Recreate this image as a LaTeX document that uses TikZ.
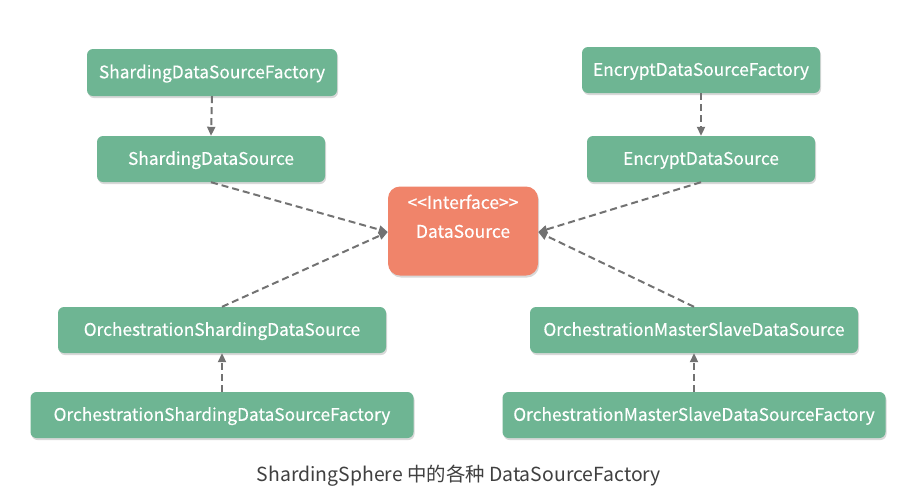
\documentclass[tikz,border=0pt]{standalone}
\usepackage{fontspec}
\setmainfont{Noto Sans CJK SC}
\newfontfamily\boxfont[FakeBold=0.4]{Noto Sans CJK SC}
\usetikzlibrary{arrows.meta,shadows,calc}
\definecolor{boxgreen}{HTML}{6EB593}
\definecolor{boxorange}{HTML}{F0846A}
\definecolor{arrowgray}{HTML}{727272}
\tikzset{
  gbox/.style={draw=none, fill=boxgreen, rounded corners=6pt, text=white,
    font=\boxfont\fontsize{17.3}{20}\selectfont, inner sep=0pt,
    text height=12.6pt, text depth=1pt,
    drop shadow={shadow xshift=1pt, shadow yshift=-2pt, opacity=0.25, fill=black!60}},
  obox/.style={draw=none, fill=boxorange, rounded corners=12pt, text=white,
    inner sep=0pt,
    drop shadow={shadow xshift=1pt, shadow yshift=-2pt, opacity=0.25, fill=black!60}},
  otext/.style={text=white, inner sep=0pt, text height=12.6pt, text depth=1pt},
  dep/.style={draw=arrowgray, line width=2pt, dash pattern=on 7pt off 4pt,
    -{Triangle[length=9pt,width=8pt]}},
}
\begin{document}
\begin{tikzpicture}[x=1pt,y=-1pt]
\useasboundingbox (0,0) rectangle (904,491);
\fill[white] (0,0) rectangle (904,491);
\node[gbox, minimum width=250pt, minimum height=47pt] (sdsf) at (212,72.5) {ShardingDataSourceFactory};
\node[gbox, minimum width=228pt, minimum height=46pt] (sds) at (211,159) {ShardingDataSource};
\node[gbox, minimum width=238pt, minimum height=46pt] (edsf) at (701,70) {EncryptDataSourceFactory};
\node[gbox, minimum width=228pt, minimum height=46pt] (eds) at (701,159) {EncryptDataSource};
\node[obox, minimum width=150pt, minimum height=89pt] (ds) at (463,231) {};
\node[otext, font=\boxfont\fontsize{17.5}{20}\selectfont] (dsi) at (463,203) {{<}{<}Interface{>}{>}};
\node[otext, font=\boxfont\fontsize{17.5}{20}\selectfont] (dsn) at (463,232) {DataSource};
\node[gbox, minimum width=328pt, minimum height=46pt] (osds) at (222,330) {OrchestrationShardingDataSource};
\node[gbox, minimum width=328pt, minimum height=46pt] (omsds) at (694,330) {OrchestrationMasterSlaveDataSource};
\node[gbox, minimum width=383pt, minimum height=46pt] (osdsf) at (222,415) {OrchestrationShardingDataSourceFactory};
\node[gbox, minimum width=383pt, minimum height=46pt] (omsdsf) at (694,415) {OrchestrationMasterSlaveDataSourceFactory};
\node[text=black!75, inner sep=0pt, text height=14pt, text depth=1pt, font=\fontsize{19.4}{23}\selectfont] (cap) at (459,475) {ShardingSphere 中的各种 DataSourceFactory};
\coordinate (dsl) at (ds.west |- dsn);
\coordinate (dsr) at (ds.east |- dsn);
\draw[dep] (sdsf.south) -- (sds.north);
\draw[dep] (edsf.south) -- (eds.north);
\draw[dep] (osdsf.north) -- (osds.south);
\draw[dep] (omsdsf.north) -- (omsds.south);
\draw[dep] (sds.south) -- (dsl);
\draw[dep] (eds.south) -- (dsr);
\draw[dep] (osds.north) -- (dsl);
\draw[dep] (omsds.north) -- (dsr);
\end{tikzpicture}
\end{document}
